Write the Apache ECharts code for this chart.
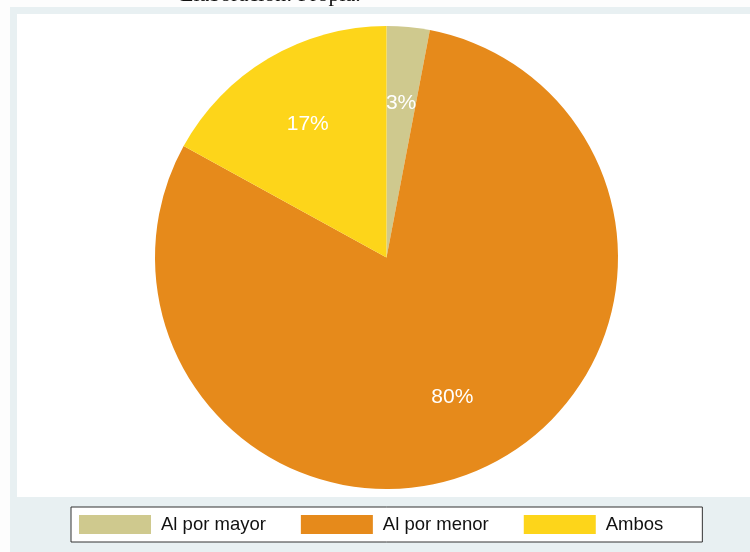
<!DOCTYPE html>
<html>
<head>
<meta charset="utf-8">
<script src="https://cdn.jsdelivr.net/npm/echarts@6/dist/echarts.min.js"></script>
<style>
  html, body { margin: 0; padding: 0; background: #fdfdfd; }
  #chart { width: 750px; height: 552px; }
</style>
</head>
<body>
<div id="chart"></div>
<script>
// Tipo de venta y su participación (%)
const categories = ['Al por mayor', 'Al por menor', 'Ambos'];
const shares = [3, 80, 17];
const sliceColors = ['#cfc98e', '#e68a1b', '#fdd51a'];

const pieData = categories.map((name, i) => ({
  name: name,
  value: shares[i],
  itemStyle: { color: sliceColors[i] }
}));

const chart = echarts.init(document.getElementById('chart'), null, { renderer: 'canvas' });

chart.setOption({
  animation: false,
  backgroundColor: '#fdfdfd',
  graphic: [
    { type: 'rect', z: -10, shape: { x: 10, y: 7, width: 740, height: 545 }, style: { fill: '#e8f0f2' } },
    { type: 'rect', z: -9, shape: { x: 17, y: 14, width: 733, height: 483 }, style: { fill: '#ffffff' } },
    {
      type: 'text', z: 5, x: 180, y: 6,
      style: {
        text: 'Elaboración: Propia.',
        font: '22px "Liberation Serif", "Times New Roman", serif',
        fill: '#111111',
        verticalAlign: 'bottom'
      }
    }
  ],
  legend: {
    data: categories,
    left: 71,
    top: 507,
    orient: 'horizontal',
    itemWidth: 72,
    itemHeight: 19,
    itemGap: 35,
    padding: [8, 39, 8, 8],
    backgroundColor: '#ffffff',
    borderColor: '#333333',
    borderWidth: 1,
    borderRadius: 0,
    icon: 'rect',
    selectedMode: false,
    textStyle: {
      fontFamily: 'Arial, "Liberation Sans", sans-serif',
      fontSize: 18.5,
      color: '#111111',
      padding: [0, 0, 0, 5]
    }
  },
  series: [
    {
      type: 'pie',
      center: [386.5, 257.5],
      radius: [0, 231.5],
      startAngle: 90,
      clockwise: true,
      silent: true,
      label: { show: false },
      labelLine: { show: false },
      data: pieData
    },
    {
      // transparent ring carrying the percentage labels
      type: 'pie',
      center: [386.5, 257.5],
      radius: [72, 231.5],
      startAngle: 90,
      clockwise: true,
      silent: true,
      legendHoverLink: false,
      itemStyle: { color: 'rgba(0,0,0,0)' },
      label: {
        show: true,
        position: 'inside',
        formatter: p => p.value + '%',
        color: '#ffffff',
        fontFamily: 'Arial, "Liberation Sans", sans-serif',
        fontSize: 21
      },
      labelLine: { show: false },
      data: categories.map((name, i) => ({ name: name, value: shares[i], itemStyle: { color: 'rgba(0,0,0,0)' } }))
    }
  ]
});
</script>
</body>
</html>
